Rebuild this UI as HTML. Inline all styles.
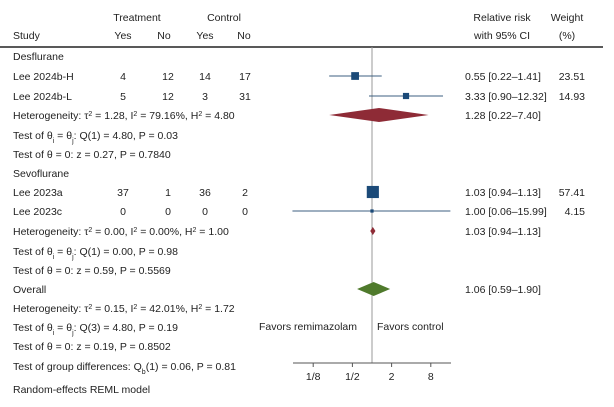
<!DOCTYPE html>
<html><head><meta charset="utf-8"><style>
body{margin:0;background:#fff;width:614px;height:402px;overflow:hidden;font-family:"Liberation Sans",sans-serif;}
svg text{font-family:"Liberation Sans",sans-serif;font-size:10.5px;fill:#222;}
</style></head><body>
<svg id="c" width="614" height="402"></svg>
<script>
const studies=["Lee 2024b-H","Lee 2024b-L","Lee 2023a","Lee 2023c"];
const tYes=[4,5,37,0];
const tNo=[12,12,1,0];
const cYes=[14,3,36,0];
const cNo=[17,31,2,0];
const rr=[0.55,3.33,1.03,1.00];
const lo=[0.22,0.90,0.94,0.06];
const hi=[1.41,12.32,1.13,15.99];
const weights=[23.51,14.93,57.41,4.15];
const studyRows=[76,96,192,211];
const sumLabels=["Desflurane","Sevoflurane","Overall"];
const sumRR=[1.28,1.03,1.06];
const sumLo=[0.22,0.94,0.59];
const sumHi=[7.40,1.13,1.90];
const tickVals=[0.125,0.5,2,8];
const tickLabels=["1/8","1/2","2","8"];
const NS="http://www.w3.org/2000/svg";
const svg=document.getElementById('c');
const xs=v=>372+19.6*Math.log2(v);
function el(tag,attrs,parent){const e=document.createElementNS(NS,tag);for(const k in attrs)e.setAttribute(k,attrs[k]);(parent||svg).appendChild(e);return e;}
function txt(x,y,s,name,anchor){const t=el('text',{x:x,y:y,'text-anchor':anchor||'start'});t.textContent=s;


return t;}
function fmt(v){return v.toFixed(2);}
txt(137,21,"Treatment","treatment-header","middle");
txt(224,21,"Control","control-header","middle");
txt(13,39,"Study","study-header");
txt(123,39,"Yes","treat-yes-header","middle");
txt(164,39,"No","treat-no-header","middle");
txt(205,39,"Yes","ctrl-yes-header","middle");
txt(244,39,"No","ctrl-no-header","middle");
txt(502,21,"Relative risk","rr-header","middle");
txt(502,39,"with 95% CI","ci-header","middle");
txt(567,21,"Weight","weight-header","middle");
txt(567,39,"(%)","weight-pct-header","middle");
let hl=el('line',{x1:0,y1:47,x2:603,y2:47,stroke:'#222','stroke-width':1.5});


let vl=el('line',{x1:xs(1),y1:47,x2:xs(1),y2:363,stroke:'#999','stroke-width':1});


const grp=[["Desflurane",60],["Sevoflurane",177],["Overall",293]];
grp.forEach(g=>txt(13,g[1],g[0],'group-label-'+g[0].toLowerCase()));
studies.forEach((s,i)=>{const y=studyRows[i];
txt(13,y+4,s,'study-name');
txt(123,y+4,tYes[i],'treat-yes','middle');txt(168,y+4,tNo[i],'treat-no','middle');
txt(205,y+4,cYes[i],'ctrl-yes','middle');txt(245,y+4,cNo[i],'ctrl-no','middle');
const l=el('line',{x1:xs(lo[i]),y1:y,x2:xs(hi[i]),y2:y,stroke:'#3c5f80','stroke-width':1});


const sz=Math.max(3,Math.sqrt(weights[i])*1.6);
const r=el('rect',{x:xs(rr[i])-sz/2,y:y-sz/2,width:sz,height:sz,fill:'#1b4a78'});


txt(465,y+4,fmt(rr[i])+" ["+fmt(lo[i])+"–"+fmt(hi[i])+"]",'study-estimate');
txt(585,y+4,fmt(weights[i]),'study-weight','end');
});
const cols=['#8e2b36','#8e2b36','#4f7a2c'];
const hh=[7,4,7];
const sumY=[115,231,289];
sumLabels.forEach((s,i)=>{const yy=sumY[i];
const d=el('polygon',{points:`${xs(sumLo[i])},${yy} ${xs(sumRR[i])},${yy-hh[i]} ${xs(sumHi[i])},${yy} ${xs(sumRR[i])},${yy+hh[i]}`,fill:cols[i]});


txt(465,yy+4,fmt(sumRR[i])+" ["+fmt(sumLo[i])+"–"+fmt(sumHi[i])+"]",'summary-estimate');
});
function stat(y,html,name){const t=el('text',{x:13,y:y});t.innerHTML=html;

}
const sup=s=>`<tspan baseline-shift="super" font-size="7">${s}</tspan>`;
const sub=s=>`<tspan baseline-shift="sub" font-size="7">${s}</tspan>`;
stat(119,`Heterogeneity: τ${sup('2')} = 1.28, I${sup('2')} = 79.16%, H${sup('2')} = 4.80`,'heterogeneity-desflurane');
stat(139,`Test of θ${sub('i')} = θ${sub('j')}: Q(1) = 4.80, P = 0.03`,'q-test-desflurane');
stat(158,`Test of θ = 0: z = 0.27, P = 0.7840`,'z-test-desflurane');
stat(235,`Heterogeneity: τ${sup('2')} = 0.00, I${sup('2')} = 0.00%, H${sup('2')} = 1.00`,'heterogeneity-sevoflurane');
stat(255,`Test of θ${sub('i')} = θ${sub('j')}: Q(1) = 0.00, P = 0.98`,'q-test-sevoflurane');
stat(274,`Test of θ = 0: z = 0.59, P = 0.5569`,'z-test-sevoflurane');
stat(312,`Heterogeneity: τ${sup('2')} = 0.15, I${sup('2')} = 42.01%, H${sup('2')} = 1.72`,'heterogeneity-overall');
stat(331,`Test of θ${sub('i')} = θ${sub('j')}: Q(3) = 4.80, P = 0.19`,'q-test-overall');
stat(350,`Test of θ = 0: z = 0.19, P = 0.8502`,'z-test-overall');
stat(370,`Test of group differences: Q${sub('b')}(1) = 0.06, P = 0.81`,'group-diff-test');
stat(393,`Random-effects REML model`,'model-note');
txt(259,330,"Favors remimazolam","favors-left-label");
txt(377,330,"Favors control","favors-right-label");
const ax=el('line',{x1:293,y1:363,x2:451,y2:363,stroke:'#555','stroke-width':1});


tickVals.forEach((v,i)=>{const tk=el('line',{x1:xs(v),y1:363,x2:xs(v),y2:367,stroke:'#555'});


txt(xs(v),380,tickLabels[i],'x-tick-label','middle');});
</script>
</body></html>
